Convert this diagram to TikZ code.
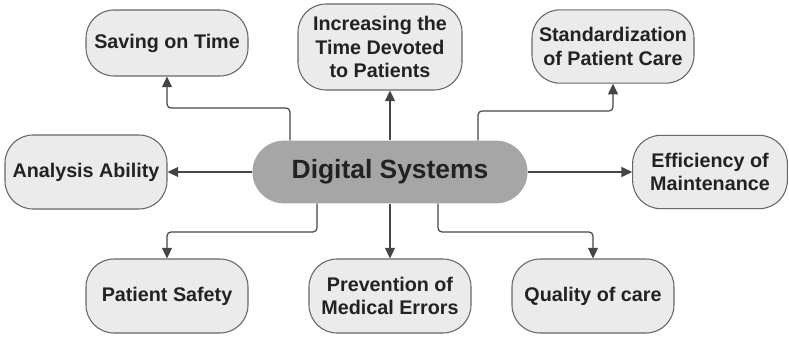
\documentclass[tikz,border=0pt]{standalone}
\usepackage{fontspec}
\setmainfont{Liberation Sans}
\usetikzlibrary{arrows.meta,shapes.misc}
\definecolor{boxfill}{HTML}{EBEBEB}
\definecolor{hubfill}{HTML}{A6A6A6}
\definecolor{ink}{HTML}{222222}
\definecolor{wire}{HTML}{454545}
\tikzstyle{topic}=[draw=black!60,line width=0.8pt,fill=boxfill,rounded corners=21pt,align=center,text=ink,font=\fontsize{14.8}{17.5}\selectfont\bfseries]
\tikzstyle{hub}=[rounded rectangle,fill=hubfill,minimum width=213pt,minimum height=47pt,text=ink,font=\fontsize{19.8}{22}\selectfont\bfseries]
\tikzstyle{arrow}=[draw=wire,line width=0.9pt,rounded corners=3pt,-{Triangle[length=8pt,width=7.5pt]}]

\begin{document}
\begin{tikzpicture}[x=0.75pt,y=-0.75pt]
    \useasboundingbox (0,0) rectangle (789,336);
    \node[hub] (digital) at (390,172) {Digital Systems};
    \foreach \pos/\name/\boxw/\boxh/\txt in {{(167,43)/saving/121.5pt/49.5pt/Saving on Time},
        {(380,47)/increasing/123pt/64.5pt/Increasing the\\Time Devoted\\to Patients},
        {(613,46.5)/standard/121.5pt/55pt/Standardization\\of Patient Care},
        {(86,172)/analysis/121.5pt/55.5pt/Analysis Ability},
        {(710,172)/efficiency/116pt/55pt/Efficiency of\\Maintenance},
        {(167,296)/safety/121.5pt/55.5pt/Patient Safety},
        {(390,296)/prevention/121.5pt/55.5pt/Prevention of\\Medical Errors},
        {(593,296)/quality/121.5pt/55.5pt/Quality of care}}
        \node[topic,minimum width=\boxw,minimum height=\boxh] (\name) at \pos {\txt};
    % elbow points
    \coordinate (b1) at (290,108);
    \coordinate (b2) at (478,111);
    \coordinate (b3) at (317,232);
    \coordinate (b4) at (438,232);
    \foreach \bend/\dest in {b1/saving, b2/standard}
        \path[arrow] (digital.north -| \bend) -- (\bend) -| (\dest.south);
    \foreach \bend/\dest in {b3/safety, b4/quality}
        \path[arrow] (digital.south -| \bend) -- (\bend) -| (\dest.north);
    \path[arrow] (digital.north) -- (digital.north |- increasing.south);
    \path[arrow] (digital.south) -- (prevention.north);
    \path[arrow] (digital.west) -- (analysis.east);
    \path[arrow] (digital.east) -- (efficiency.west);
\end{tikzpicture}
\end{document}
